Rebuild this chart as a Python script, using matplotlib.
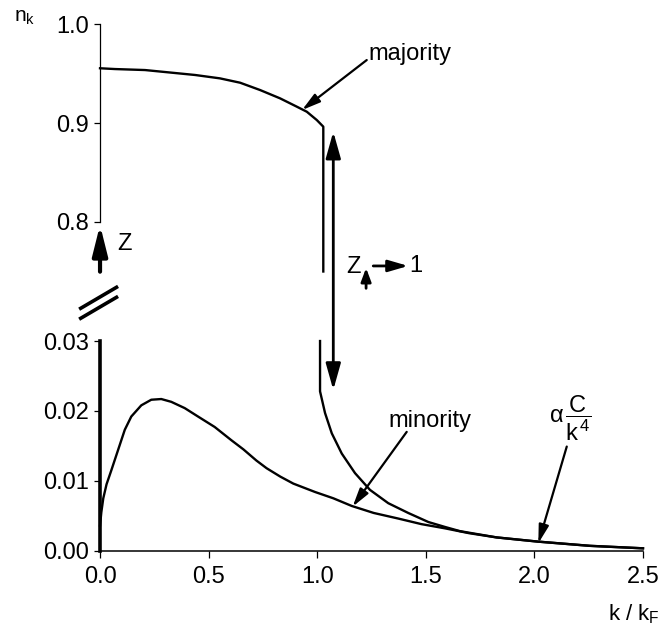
import matplotlib
matplotlib.use('Agg')
import matplotlib.pyplot as plt
from matplotlib.patches import ConnectionPatch
from matplotlib.lines import Line2D

plt.rcParams['font.family'] = ['Liberation Sans', 'DejaVu Sans']
plt.rcParams['mathtext.fontset'] = 'custom'
plt.rcParams['mathtext.rm'] = 'Liberation Sans'
plt.rcParams['mathtext.it'] = 'Liberation Sans'
plt.rcParams['mathtext.bf'] = 'Liberation Sans:bold'

# majority curve, upper part (k / kF, n_k)
maj_top_k = [0.0, 0.069, 0.207, 0.438, 0.552, 0.645, 0.737, 0.829, 0.906,
             0.952, 0.998, 1.028, 1.028]
maj_top_n = [0.9553, 0.9545, 0.9535, 0.9485, 0.9451, 0.9407, 0.9333, 0.9249,
             0.9165, 0.9114, 0.9030, 0.8963, 0.75]

# majority curve, lower part (tail above kF)
maj_bot_k = [1.013, 1.013, 1.036, 1.067, 1.113, 1.174, 1.243, 1.327, 1.419,
             1.512, 1.588, 1.657, 1.826, 2.016, 2.256, 2.5]
maj_bot_n = [0.030, 0.0228, 0.0197, 0.0168, 0.0139, 0.0111, 0.0087, 0.0068,
             0.0054, 0.0041, 0.0034, 0.0028, 0.0019, 0.0013, 0.00069, 0.00034]

# minority curve
min_k = [0.0, 0.006, 0.015, 0.030, 0.052, 0.083, 0.114, 0.144, 0.190, 0.236,
         0.282, 0.328, 0.390, 0.451, 0.528, 0.605, 0.660, 0.720, 0.767, 0.830,
         0.890, 0.990, 1.074, 1.159, 1.260, 1.373, 1.480, 1.588, 1.700, 1.826,
         2.016, 2.256, 2.5]
min_n = [0.0036, 0.0055, 0.0075, 0.0095, 0.0115, 0.0144, 0.0173, 0.0192,
         0.0208, 0.0216, 0.0217, 0.0213, 0.0204, 0.0192, 0.0177, 0.0158,
         0.0145, 0.0129, 0.0118, 0.0106, 0.0096, 0.0084, 0.0075, 0.0064,
         0.0054, 0.0046, 0.0038, 0.0032, 0.0025, 0.0019, 0.0013, 0.0007,
         0.00034]

top_ticks = [0.8, 0.9, 1.0]
top_labels = ['0.8', '0.9', '1.0']
bot_ticks = [0.0, 0.01, 0.02, 0.03]
bot_labels = ['0.00', '0.01', '0.02', '0.03']
x_ticks = [0.0, 0.5, 1.0, 1.5, 2.0, 2.5]
x_labels = ['0.0', '0.5', '1.0', '1.5', '2.0', '2.5']

fs = 17

fig = plt.figure(figsize=(6.62, 6.27), dpi=100)
ax_top = fig.add_axes([0.1511, 0.567, 0.8202, 0.3947])
ax_bot = fig.add_axes([0.1511, 0.1217, 0.8202, 0.3344])

# upper panel
ax_top.patch.set_visible(False)
ax_top.set_xlim(0, 2.5)
ax_top.set_ylim(0.75, 1.0)
for s in ['top', 'right', 'bottom']:
    ax_top.spines[s].set_visible(False)
ax_top.spines['left'].set_bounds(0.8, 1.0)
ax_top.spines['left'].set_linewidth(0.9)
ax_top.set_xticks([])
ax_top.set_yticks(top_ticks)
ax_top.set_yticklabels(top_labels, fontsize=fs)
ax_top.tick_params(axis='y', length=4, width=0.9, pad=4)
ax_top.plot(maj_top_k, maj_top_n, color='k', lw=1.7, clip_on=False)

# lower panel
ax_bot.patch.set_visible(False)
ax_bot.set_xlim(0, 2.5)
ax_bot.set_ylim(0, 0.03)
ax_bot.spines['top'].set_visible(False)
ax_bot.spines['right'].set_visible(False)
ax_bot.spines['left'].set_linewidth(2.6)
ax_bot.spines['bottom'].set_linewidth(1.1)
ax_bot.set_yticks(bot_ticks)
ax_bot.set_yticklabels(bot_labels, fontsize=fs)
ax_bot.set_xticks(x_ticks)
ax_bot.set_xticklabels(x_labels, fontsize=fs)
ax_bot.tick_params(axis='y', length=4, width=0.9, pad=4)
ax_bot.tick_params(axis='x', length=5, width=0.9, pad=6)
ax_bot.plot(maj_bot_k, maj_bot_n, color='k', lw=1.7, clip_on=False)
ax_bot.plot(min_k, min_n, color='k', lw=1.7, clip_on=False)

# axis labels
fig.text(14 / 662, 1 - 21.7 / 627, r'$\mathregular{n_k}$', fontsize=15, va='baseline')
fig.text(660 / 662, 1 - 620 / 627, r'$\mathregular{k\ /\ k_F}$', fontsize=16,
         ha='right', va='baseline')

# axis break marks
for y0, y1 in [(308.3, 287.3), (318.3, 297.3)]:
    fig.add_artist(Line2D([80.7 / 662, 116.5 / 662], [1 - y0 / 627, 1 - y1 / 627],
                          transform=fig.transFigure, color='k', lw=2.6))

# annotations
def arrow(ax, tip, tail, hl=1.1, hw=0.3, lw=1.6):
    ax.annotate('', xy=tip, xytext=tail, annotation_clip=False,
                arrowprops=dict(arrowstyle='-|>,head_length=%g,head_width=%g' % (hl, hw),
                                color='k', lw=lw, shrinkA=0, shrinkB=0, mutation_scale=10))

ax_top.text(1.234, 0.9636, 'majority', fontsize=fs, ha='left', va='baseline')
arrow(ax_top, (0.930, 0.9131), (1.228, 0.9636))

ax_bot.text(1.327, 0.01774, 'minority', fontsize=fs, ha='left', va='baseline')
arrow(ax_bot, (1.163, 0.0063), (1.412, 0.0170))

ax_bot.text(2.164, 0.0189, r'$\alpha\,\dfrac{C}{k^4}$', fontsize=fs, ha='center', va='center')
arrow(ax_bot, (2.018, 0.00106), (2.149, 0.0149))

# Z arrow at k = 0
arrow(ax_top, (0.0, 0.797), (0.0, 0.7498), hl=1.8, hw=0.45, lw=3)
ax_top.text(0.111, 0.7778, 'Z', fontsize=fs, ha='center', va='center')

# Z -> 1 label
ax_top.text(1.167, 0.7549, 'Z', fontsize=fs, ha='center', va='center')
arrow(ax_top, (1.225, 0.7535), (1.225, 0.733), hl=0.8, hw=0.3, lw=2)
arrow(ax_top, (1.419, 0.7556), (1.258, 0.7556), hl=1.2, hw=0.35, lw=2)
ax_top.text(1.456, 0.7556, '1', fontsize=fs, ha='center', va='center')

# double arrow across the break
con = ConnectionPatch(xyA=(1.074, 0.8912), coordsA=ax_top.transData,
                      xyB=(1.074, 0.0230), coordsB=ax_bot.transData,
                      arrowstyle='<|-|>,head_length=1.6,head_width=0.45',
                      mutation_scale=10, lw=2, color='k', shrinkA=0, shrinkB=0)
fig.add_artist(con)

fig.savefig('out.png', dpi=100)
